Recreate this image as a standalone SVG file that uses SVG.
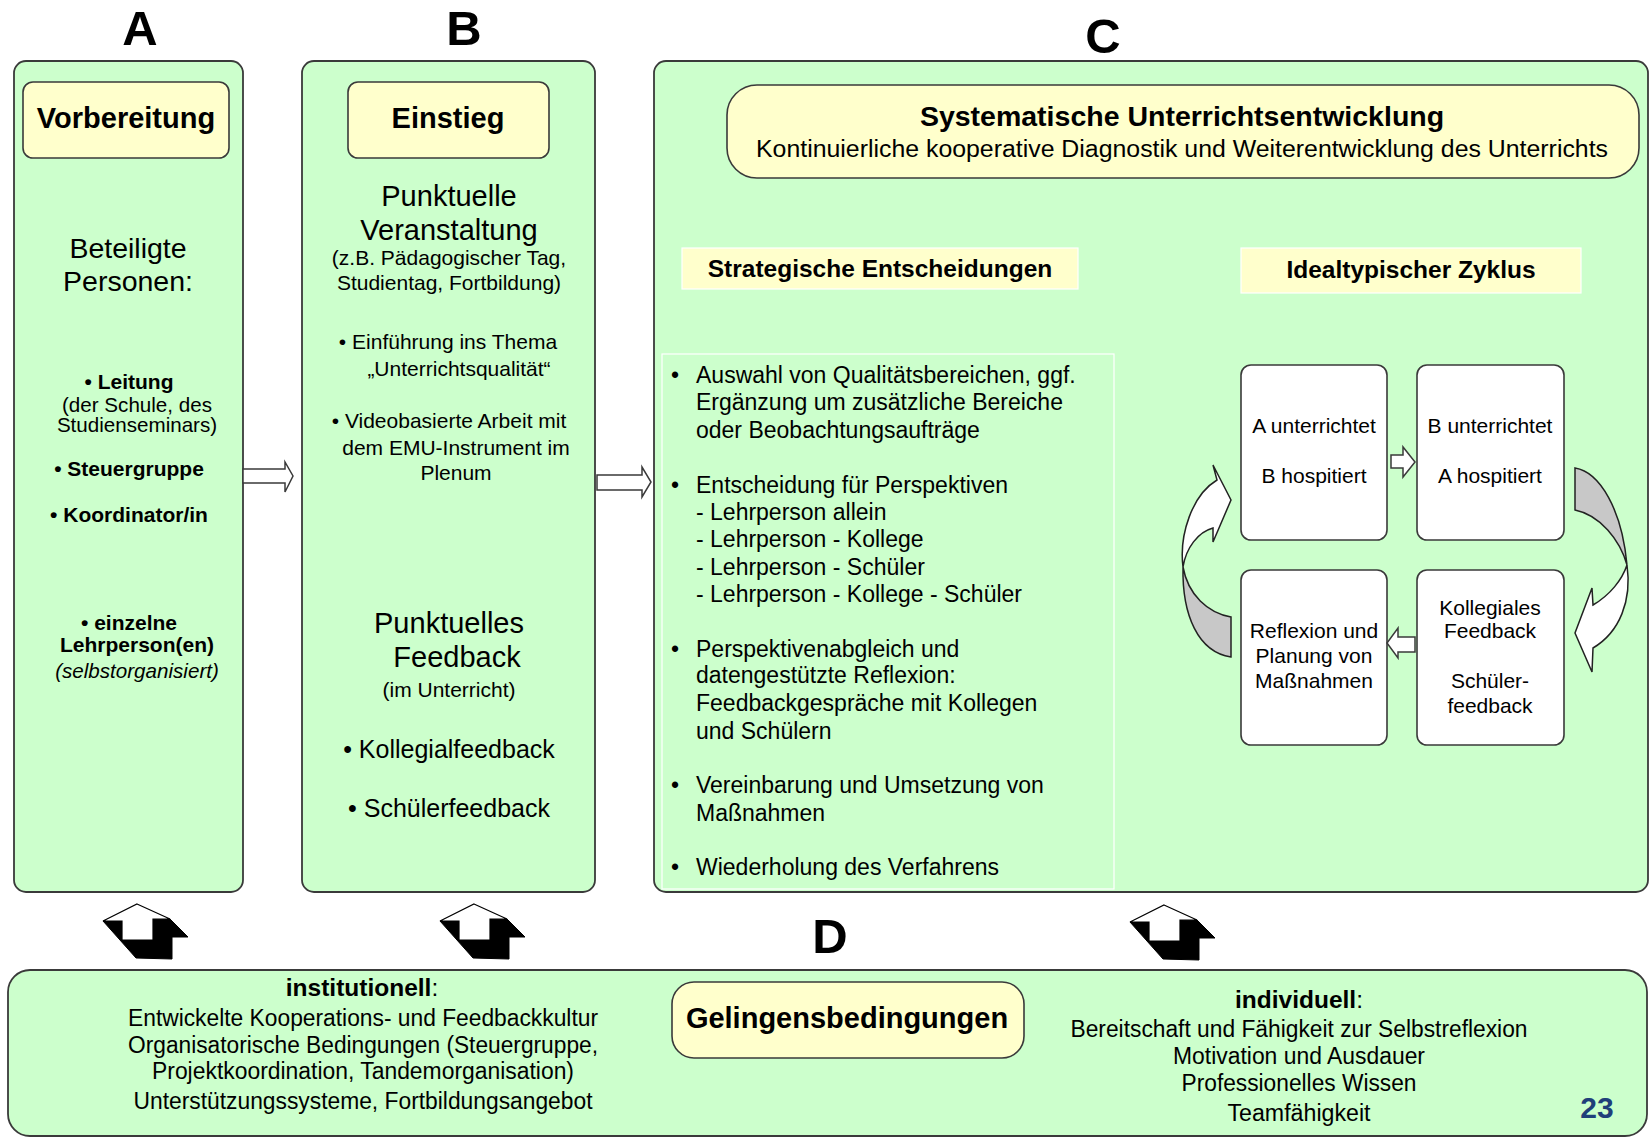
<svg xmlns="http://www.w3.org/2000/svg" width="1652" height="1138" viewBox="0 0 1652 1138">
<style>
text{font-family:"Liberation Sans",Arial,sans-serif;fill:#000}
.panel{fill:#ccffcc;stroke:#3a3a3a;stroke-width:1.8}
.label{fill:#ffffcc;stroke:#3a3a3a;stroke-width:1.6}
.tag{fill:#ffffcc;stroke:#ffffff;stroke-width:1.2}
.cyc{fill:#ffffff;stroke:#3a3a3a;stroke-width:1.6}
.blk{fill:#ffffff;stroke:#3a3a3a;stroke-width:1.5;stroke-linejoin:miter}
.gray{fill:#c8c8c8;stroke:#222;stroke-width:1.5}
.wht{fill:#ffffff;stroke:#222;stroke-width:1.5}
.big{font-size:49px;font-weight:bold}
.hd{font-size:29px;font-weight:bold}
.c{text-anchor:middle}
.a20{font-size:20.6px}
.b20{font-size:21px;font-weight:bold}
.b19{font-size:21px}
.l28{font-size:29px}
.l24{font-size:25px}
.l23{font-size:23px}
.d22{font-size:23px}
.dh{font-size:24.5px}
.cy{font-size:21px}
</style>
<defs>
<g id="updown">
<polygon points="0,18 67,16 85,34 69,34 69,56 33,55" fill="#000" stroke="#000" stroke-width="1"/>
<polygon points="34,1 67,16 50,16 50,37 19,37 19,18 0,18" fill="#fff" stroke="#000" stroke-width="1.2"/>
</g>
</defs>

<rect width="1652" height="1138" fill="#ffffff"/>

<!-- section letters -->
<text class="big c" x="140" y="45">A</text>
<text class="big c" x="464" y="45">B</text>
<text class="big c" x="1103" y="53">C</text>
<text class="big c" x="830" y="953">D</text>

<!-- Panel A -->
<g id="panelA">
<rect class="panel" x="14" y="61" width="229" height="831" rx="12"/>
<rect class="label" x="23" y="82" width="206" height="76" rx="10"/>
<text class="hd c" x="126" y="128">Vorbereitung</text>
<text class="c" x="128" y="258" font-size="28.5">Beteiligte</text>
<text class="c" x="128" y="291" font-size="28.5">Personen:</text>
<text class="b20 c" x="129" y="389">• Leitung</text>
<text class="a20 c" x="137" y="412">(der Schule, des</text>
<text class="a20 c" x="137" y="432">Studienseminars)</text>
<text class="b20 c" x="129" y="476">• Steuergruppe</text>
<text class="b20 c" x="129" y="522">• Koordinator/in</text>
<text class="b20 c" x="129" y="630">• einzelne</text>
<text class="b20 c" x="137" y="652">Lehrperson(en)</text>
<text class="a20 c" x="137" y="678" font-style="italic">(selbstorganisiert)</text>
</g>

<!-- Panel B -->
<g id="panelB">
<rect class="panel" x="302" y="61" width="293" height="831" rx="12"/>
<rect class="label" x="348" y="82" width="201" height="76" rx="10"/>
<text class="hd c" x="448" y="128">Einstieg</text>
<text class="l28 c" x="449" y="206">Punktuelle</text>
<text class="l28 c" x="449" y="240">Veranstaltung</text>
<text class="b19 c" x="449" y="265">(z.B. Pädagogischer Tag,</text>
<text class="b19 c" x="449" y="290">Studientag, Fortbildung)</text>
<text class="b19 c" x="448" y="349">• Einführung ins Thema</text>
<text class="b19 c" x="459" y="376">„Unterrichtsqualität“</text>
<text class="b19 c" x="449" y="428">• Videobasierte Arbeit mit</text>
<text class="b19 c" x="456" y="455">dem EMU-Instrument im</text>
<text class="b19 c" x="456" y="480">Plenum</text>
<text class="l28 c" x="449" y="633">Punktuelles</text>
<text class="l28 c" x="457" y="667">Feedback</text>
<text class="b19 c" x="449" y="697">(im Unterricht)</text>
<text class="l24 c" x="449" y="758">• Kollegialfeedback</text>
<text class="l24 c" x="449" y="817">• Schülerfeedback</text>
</g>

<!-- Panel C -->
<g id="panelC">
<rect class="panel" x="654" y="61" width="994" height="831" rx="12"/>
<rect class="label" x="727" y="85" width="912" height="93" rx="30"/>
<text class="c" x="1182" y="126" font-size="28.5" font-weight="bold">Systematische Unterrichtsentwicklung</text>
<text class="c" x="1182" y="157" font-size="23" textLength="852" lengthAdjust="spacingAndGlyphs">Kontinuierliche kooperative Diagnostik und Weiterentwicklung des Unterrichts</text>
</g>

<g id="strategisch">
<rect class="tag" x="682" y="248" width="396" height="41"/>
<text class="c" x="880" y="277" font-size="24.5" font-weight="bold">Strategische Entscheidungen</text>
<rect x="662" y="354" width="452" height="535" fill="none" stroke="#ffffff" stroke-width="1.2"/>
<g class="l23">
<text x="675" y="383" text-anchor="middle">•</text>
<text x="696" y="383">Auswahl von Qualitätsbereichen, ggf.</text>
<text x="696" y="410">Ergänzung um zusätzliche Bereiche</text>
<text x="696" y="438">oder Beobachtungsaufträge</text>
<text x="675" y="493" text-anchor="middle">•</text>
<text x="696" y="493">Entscheidung für Perspektiven</text>
<text x="696" y="520">- Lehrperson allein</text>
<text x="696" y="547">- Lehrperson - Kollege</text>
<text x="696" y="575">- Lehrperson - Schüler</text>
<text x="696" y="602">- Lehrperson - Kollege - Schüler</text>
<text x="675" y="657" text-anchor="middle">•</text>
<text x="696" y="657">Perspektivenabgleich und</text>
<text x="696" y="683">datengestützte Reflexion:</text>
<text x="696" y="711">Feedbackgespräche mit Kollegen</text>
<text x="696" y="739">und Schülern</text>
<text x="675" y="793" text-anchor="middle">•</text>
<text x="696" y="793">Vereinbarung und Umsetzung von</text>
<text x="696" y="821">Maßnahmen</text>
<text x="675" y="875" text-anchor="middle">•</text>
<text x="696" y="875">Wiederholung des Verfahrens</text>
</g>
</g>

<g id="zyklus">
<rect class="tag" x="1241" y="248" width="340" height="45"/>
<text class="c" x="1411" y="278" font-size="24.5" font-weight="bold">Idealtypischer Zyklus</text>
</g>

<g id="cycA">
<rect class="cyc" x="1241" y="365" width="146" height="175" rx="10"/>
<text class="cy c" x="1314" y="433">A unterrichtet</text>
<text class="cy c" x="1314" y="483">B hospitiert</text>
</g>
<g id="cycB">
<rect class="cyc" x="1417" y="365" width="147" height="175" rx="10"/>
<text class="cy c" x="1490" y="433">B unterrichtet</text>
<text class="cy c" x="1490" y="483">A hospitiert</text>
</g>
<g id="cycR">
<rect class="cyc" x="1241" y="570" width="146" height="175" rx="10"/>
<text class="cy c" x="1314" y="638">Reflexion und</text>
<text class="cy c" x="1314" y="663">Planung von</text>
<text class="cy c" x="1314" y="688">Maßnahmen</text>
</g>
<g id="cycK">
<rect class="cyc" x="1417" y="570" width="147" height="175" rx="10"/>
<text class="cy c" x="1490" y="615">Kollegiales</text>
<text class="cy c" x="1490" y="638">Feedback</text>
<text class="cy c" x="1490" y="688">Schüler-</text>
<text class="cy c" x="1490" y="713">feedback</text>
</g>

<!-- Panel D -->
<g id="panelD">
<rect class="panel" x="8" y="970" width="1639" height="166" rx="22"/>
<rect class="label" x="672" y="982" width="352" height="76" rx="22"/>
<text class="hd c" x="847" y="1028">Gelingensbedingungen</text>
<text class="dh c" x="362" y="996"><tspan font-weight="bold">institutionell</tspan>:</text>
<text class="d22 c" x="363" y="1026" textLength="470" lengthAdjust="spacingAndGlyphs">Entwickelte Kooperations- und Feedbackkultur</text>
<text class="d22 c" x="363" y="1053" textLength="470" lengthAdjust="spacingAndGlyphs">Organisatorische Bedingungen (Steuergruppe,</text>
<text class="d22 c" x="363" y="1079" textLength="422" lengthAdjust="spacingAndGlyphs">Projektkoordination, Tandemorganisation)</text>
<text class="d22 c" x="363" y="1109" textLength="459" lengthAdjust="spacingAndGlyphs">Unterstützungssysteme, Fortbildungsangebot</text>
<text class="dh c" x="1299" y="1008"><tspan font-weight="bold">individuell</tspan>:</text>
<text class="d22 c" x="1299" y="1037" textLength="457" lengthAdjust="spacingAndGlyphs">Bereitschaft und Fähigkeit zur Selbstreflexion</text>
<text class="d22 c" x="1299" y="1064" textLength="252" lengthAdjust="spacingAndGlyphs">Motivation und Ausdauer</text>
<text class="d22 c" x="1299" y="1091" textLength="235" lengthAdjust="spacingAndGlyphs">Professionelles Wissen</text>
<text class="d22 c" x="1299" y="1121" textLength="143" lengthAdjust="spacingAndGlyphs">Teamfähigkeit</text>
<text class="c" x="1597" y="1118" font-size="30" font-weight="bold" style="fill:#1f3f7a">23</text>
</g>

<!-- connectors -->
<g id="connectors">
<polygon class="blk" points="243,469 285,469 285,462 293,476 285,492 285,483 243,483"/>
<polygon class="blk" points="597,475 642,475 642,467 651,482 642,497 642,490 597,490"/>
<polygon class="blk" points="1391,455 1403,455 1403,447 1415,462 1403,477 1403,468 1391,468"/>
<polygon class="blk" points="1415,637 1398,637 1398,628 1387,643 1398,658 1398,652 1415,652"/>
<path class="wht" d="M1217,480 L1213,465 L1231,500 L1213,542 L1213,528 C1198,532 1186,548 1183,567 C1179,535 1192,495 1217,480 Z"/>
<path class="gray" d="M1183,567 C1188,595 1208,613 1231,617 L1231,657 C1198,652 1182,615 1183,567 Z"/>
<path class="gray" d="M1575,468 C1600,472 1622,510 1627,565 C1620,540 1600,515 1575,510 Z"/>
<path class="wht" d="M1627,565 C1632,600 1620,632 1593,648 L1592,672 L1575,633 L1592,588 L1593,605 C1610,595 1622,580 1627,565 Z"/>
<use href="#updown" transform="translate(103,903)"/>
<use href="#updown" transform="translate(440,903)"/>
<use href="#updown" transform="translate(1130,904)"/>
</g>
</svg>
